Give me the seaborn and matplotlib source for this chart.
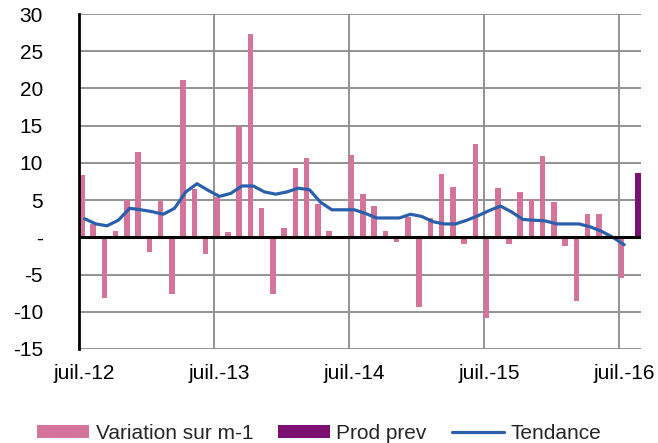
"""
Variation mensuelle, prévision et tendance (juil.-12 à août-16)
"""

import matplotlib
matplotlib.use("Agg")
import matplotlib.pyplot as plt
import numpy as np
import pandas as pd
import seaborn as sns

# Mois : juillet 2012 -> août 2016
mois = pd.date_range("2012-07-01", "2016-08-01", freq="MS")
mois_labels = [f"{m.month:02d}-{m.year}" for m in mois]

# Variation sur m-1 (juil.-12 -> juil.-16)
variation = [
    8.4, 1.8, -8.2, 0.8, 5.0, 11.4, -2.0, 4.9, -7.6, 21.1,
    6.5, -2.2, 5.4, 0.7, 14.9, 27.3, 3.9, -7.6, 1.2, 9.3,
    10.6, 4.5, 0.8, 0.0, 11.0, 5.8, 4.2, 0.8, -0.6, 2.7,
    -9.4, 2.6, 8.5, 6.8, -0.9, 12.5, -10.8, 6.6, -0.9, 6.1,
    5.2, 10.9, 4.8, -1.2, -8.6, 3.1, 3.1, 0.0, -5.5,
]
# Prod prev (août-16)
prod_prev = 8.7

# Tendance (juil.-12 -> juil.-16)
tendance = [
    2.5, 1.8, 1.55, 2.3, 3.9, 3.7, 3.45, 3.1, 3.9, 6.1,
    7.2, 6.3, 5.5, 5.9, 6.9, 6.9, 6.1, 5.8, 6.1, 6.6,
    6.4, 4.7, 3.7, 3.7, 3.7, 3.2, 2.6, 2.6, 2.6, 3.1,
    2.8, 2.1, 1.8, 1.8, 2.3, 2.9, 3.6, 4.2, 3.4, 2.4,
    2.3, 2.2, 1.8, 1.8, 1.8, 1.4, 0.8, 0.0, -1.0,
]

xtick_pos = [0, 12, 24, 36, 48]
xtick_labels = ["juil.-12", "juil.-13", "juil.-14", "juil.-15", "juil.-16"]
ytick_vals = [30, 25, 20, 15, 10, 5, 0, -5, -10, -15]
ytick_labels = ["30", "25", "20", "15", "10", "5", "-", "-5", "-10", "-15"]

PINK = "#D4749A"
PURPLE = "#7B0F72"
BLUE = "#2A5FAC"
GRID = "#8A8A8A"

sns.set_theme(style="white")
plt.rcParams["font.family"] = ["Liberation Sans", "DejaVu Sans"]

# Table longue pour le barplot (deux séries côte à côte, comme Excel)
n = len(mois_labels)
var_col = variation + [np.nan] * (n - len(variation))
prev_col = [np.nan] * (n - 1) + [prod_prev]
df = pd.DataFrame({
    "mois": mois_labels * 2,
    "valeur": var_col + prev_col,
    "serie": ["Variation sur m-1"] * n + ["Prod prev"] * n,
})

fig = plt.figure(figsize=(6.58, 4.43), dpi=100)
ax = fig.add_axes([79 / 658, 1 - 349 / 443, (641 - 79) / 658, (349 - 14) / 443])

sns.barplot(
    data=df, x="mois", y="valeur", hue="serie", order=mois_labels,
    hue_order=["Variation sur m-1", "Prod prev"],
    palette=[PINK, PURPLE], width=0.98, saturation=1, dodge=True,
    errorbar=None, linewidth=0, ax=ax, zorder=3,
)
sns.lineplot(
    x=np.arange(len(tendance)), y=tendance, color=BLUE, linewidth=2.3,
    label="Tendance", ax=ax, zorder=4,
)

ax.set_xlim(-0.5, n - 0.5)
ax.set_ylim(-15, 30)

# Grille
ax.set_yticks(ytick_vals)
ax.set_yticklabels(ytick_labels)
ax.set_xticks(xtick_pos)
ax.set_xticklabels(xtick_labels)
ax.set_xticks([p - 0.5 for p in xtick_pos[1:]], minor=True)
ax.yaxis.grid(True, color=GRID, linewidth=1.3, zorder=0)
ax.xaxis.grid(True, which="minor", color=GRID, linewidth=1.3, zorder=0)
ax.xaxis.grid(False, which="major")
ax.set_axisbelow(True)
ax.axhline(0, color="black", linewidth=2.2, zorder=5)

for side in ["top", "right", "bottom"]:
    ax.spines[side].set_visible(False)
ax.spines["left"].set_color("black")
ax.spines["left"].set_linewidth(2.0)
ax.spines["left"].set_zorder(6)

ax.tick_params(axis="y", length=0, pad=26, labelsize=15, labelcolor="black")
ax.tick_params(axis="x", which="both", length=0, pad=11, labelsize=15,
               labelcolor="black")
ax.set_xlabel("")
ax.set_ylabel("")

handles, labels = ax.get_legend_handles_labels()
ax.get_legend().remove()
fig.legend(
    handles, labels, loc="center", bbox_to_anchor=(0.485, 0.022),
    ncol=3, frameon=False, fontsize=15, handlelength=2.5, handleheight=0.6,
    handletextpad=0.3, columnspacing=1.2, borderpad=0,
)

plt.savefig("out.png", dpi=100)
plt.close()
